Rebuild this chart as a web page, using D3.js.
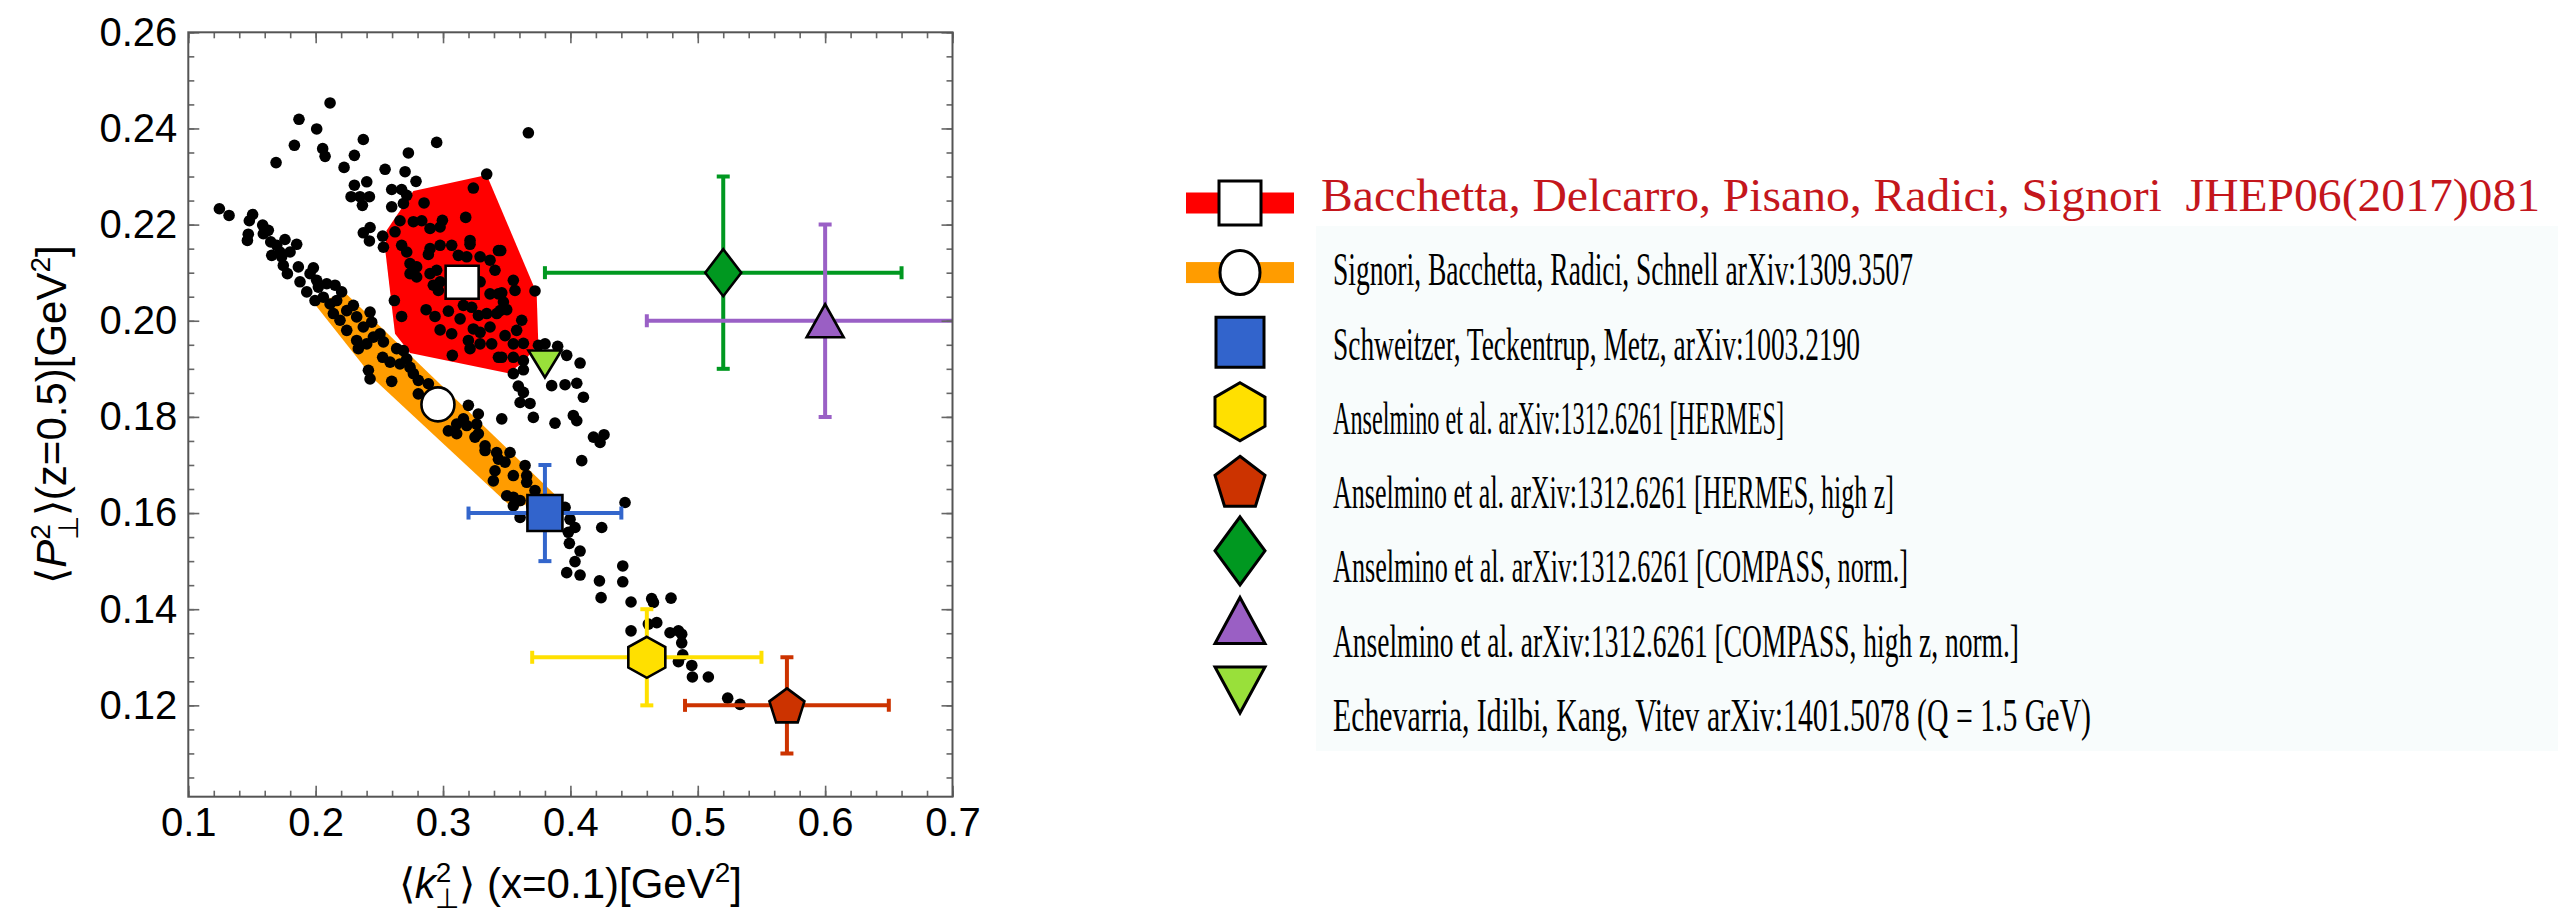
<!DOCTYPE html>
<html>
<head>
<meta charset="utf-8">
<script src="https://cdn.jsdelivr.net/npm/d3@7"></script>
<style>
  html, body { margin: 0; padding: 0; background: #fff; }
  svg { display: block; }
</style>
</head>
<body>
<svg id="chart" width="2558" height="917"></svg>
<script>
// replica scan: <k_perp^2>(x=0.1) vs <P_perp^2>(z=0.5)
const scanPoints = [
  [0.2113,0.2453],[0.1869,0.2419],[0.2008,0.2399],[0.2374,0.2377],[0.1833,0.2365],[0.2055,0.2358],[0.2074,0.2342],[0.1689,0.2329],[0.2304,0.2344],[0.2728,0.2349],
  [0.2950,0.2371],[0.2223,0.2319],[0.2545,0.2315],[0.2702,0.2310],[0.2788,0.2290],[0.2304,0.2282],[0.2401,0.2289],[0.2278,0.2258],[0.2348,0.2258],[0.2422,0.2258],
  [0.2367,0.2240],[0.2597,0.2273],[0.2675,0.2273],[0.2715,0.2261],[0.2597,0.2237],[0.2689,0.2244],[0.3343,0.2305],[0.3238,0.2276],[0.2851,0.2245],[0.3178,0.2215],
  [0.2662,0.2208],[0.2767,0.2206],[0.2833,0.2208],[0.2995,0.2209],[0.2977,0.2195],[0.2898,0.2192],[0.2427,0.2194],[0.2374,0.2183],[0.2422,0.2166],[0.2526,0.2176],
  [0.2532,0.2153],[0.2623,0.2185],[0.2675,0.2157],[0.2715,0.2143],[0.2898,0.2150],[0.2885,0.2138],[0.2977,0.2157],[0.3068,0.2157],[0.3212,0.2167],[0.3212,0.2159],
  [0.3435,0.2146],[0.3120,0.2136],[0.3186,0.2133],[0.3291,0.2133],[0.3369,0.2126],[0.2741,0.2119],[0.2793,0.2112],[0.2741,0.2098],[0.2793,0.2091],[0.2898,0.2098],
  [0.2950,0.2105],[0.2977,0.2081],[0.2924,0.2074],[0.2963,0.2063],[0.3408,0.2105],[0.3291,0.2081],[0.3369,0.2056],[0.3435,0.2056],[0.2618,0.2042],[0.2675,0.2009],
  [0.2867,0.2023],[0.2937,0.2009],[0.3042,0.2020],[0.3134,0.2004],[0.3160,0.2032],[0.3225,0.2028],[0.3278,0.2011],[0.3343,0.2015],[0.3422,0.2015],[0.2977,0.1981],
  [0.3068,0.1973],[0.3238,0.1983],[0.3291,0.1976],[0.3369,0.1987],[0.3199,0.1959],[0.3291,0.1952],[0.3382,0.1952],[0.3212,0.1942],[0.3073,0.1928],[0.3435,0.1924],
  [0.1244,0.2233],[0.1320,0.2219],[0.1505,0.2221],[0.1479,0.2208],[0.1584,0.2199],[0.1628,0.2188],[0.1471,0.2180],[0.1464,0.2167],[0.1589,0.2181],[0.1647,0.2164],
  [0.1694,0.2157],[0.1759,0.2169],[0.1851,0.2159],[0.1720,0.2143],[0.1799,0.2143],[0.1655,0.2136],[0.1733,0.2133],[0.1746,0.2115],[0.1778,0.2098],[0.1864,0.2112],
  [0.1982,0.2110],[0.1956,0.2098],[0.1877,0.2081],[0.1930,0.2060],[0.2008,0.2084],[0.2021,0.2070],[0.2087,0.2077],[0.2152,0.2074],[0.2204,0.2060],[0.1995,0.2042],
  [0.2060,0.2049],[0.2113,0.2035],[0.2165,0.2042],[0.2139,0.2015],[0.2191,0.2001],[0.2244,0.2021],[0.2296,0.2032],[0.2244,0.1980],[0.2322,0.2008],[0.2374,0.1987],
  [0.2427,0.2018],[0.2440,0.1997],[0.2322,0.1959],[0.2335,0.1942],[0.2401,0.1952],[0.2453,0.1966],[0.2505,0.1973],[0.2532,0.1956],[0.2526,0.1924],[0.2584,0.1914],
  [0.2636,0.1942],[0.2689,0.1938],[0.2715,0.1921],[0.2662,0.1910],[0.2741,0.1903],[0.2767,0.1890],[0.2806,0.1876],[0.2414,0.1897],[0.2427,0.1879],[0.2597,0.1874],
  [0.2885,0.1869],
  [0.3670,0.2391],[0.3453,0.2146],[0.3552,0.2084],[0.3565,0.2063],[0.3722,0.2062],[0.3461,0.2058],[0.3474,0.2039],[0.3448,0.2021],[0.3500,0.2023],[0.3618,0.2001],
  [0.3578,0.1980],[0.3487,0.1969],[0.3552,0.1952],[0.3631,0.1953],[0.3749,0.1949],[0.3801,0.1952],[0.3900,0.1947],[0.3461,0.1924],[0.3552,0.1924],[0.3631,0.1917],
  [0.3971,0.1928],[0.4076,0.1912],[0.3552,0.1890],[0.3631,0.1898],[0.3853,0.1865],[0.3958,0.1867],[0.4050,0.1870],[0.3591,0.1864],[0.3631,0.1851],[0.4102,0.1841],
  [0.2806,0.1848],[0.3605,0.1830],[0.3683,0.1828],[0.3461,0.1796],[0.3709,0.1799],[0.3879,0.1787],[0.4023,0.1803],[0.4050,0.1792],[0.4181,0.1758],[0.4233,0.1747],
  [0.4089,0.1709],[0.4264,0.1763],
  [0.3199,0.1824],[0.3277,0.1806],[0.3160,0.1796],[0.3107,0.1785],[0.3042,0.1771],[0.3107,0.1765],[0.3186,0.1782],[0.3264,0.1785],[0.3251,0.1758],[0.3277,0.1765],
  [0.3330,0.1740],[0.3330,0.1730],[0.3421,0.1726],[0.3526,0.1726],[0.3435,0.1712],[0.3487,0.1706],[0.3408,0.1688],[0.3395,0.1667],[0.3552,0.1678],[0.3644,0.1699],
  [0.3657,0.1678],[0.3657,0.1664],[0.3722,0.1647],[0.3500,0.1636],[0.3552,0.1633],[0.3605,0.1626],[0.3552,0.1615],[0.3605,0.1591],[0.3696,0.1615],
  [0.3958,0.1612],[0.4429,0.1622],[0.3997,0.1587],[0.4036,0.1570],[0.4246,0.1570],[0.3984,0.1560],[0.3992,0.1537],[0.4076,0.1521],[0.4036,0.1499],[0.3971,0.1476],
  [0.4076,0.1471],[0.4411,0.1490],[0.4228,0.1459],[0.4411,0.1457],[0.4241,0.1424],[0.4476,0.1415],[0.4638,0.1422],[0.4652,0.1414],[0.4790,0.1423],[0.4678,0.1372],
  [0.4612,0.1369],[0.4476,0.1355],[0.4782,0.1351],[0.4848,0.1355],[0.4874,0.1348],[0.4874,0.1330],[0.4882,0.1305],[0.4848,0.1291],[0.4953,0.1283],[0.4958,0.1259],
  [0.5083,0.1259],[0.5235,0.1215],[0.5332,0.1202]
];

// envelope of the 2017 fit (red) and of the 2013 fit (orange)
const redHull = [
  [0.2767,0.2270],[0.3343,0.2303],[0.3709,0.2074],[0.3736,0.2049],[0.3748,0.1952],
  [0.3631,0.1914],[0.3513,0.1891],[0.2741,0.1933],[0.2623,0.1973],[0.2545,0.2150],[0.2558,0.2188]
];
const orangeBand = [
  [0.1995,0.2034],[0.2225,0.2060],[0.3880,0.1638],[0.3550,0.1609],[0.2466,0.1876]
];

// extractions, in legend order
const legendLabels = [
  'Bacchetta, Delcarro, Pisano, Radici, Signori  JHEP06(2017)081',
  'Signori, Bacchetta, Radici, Schnell arXiv:1309.3507',
  'Schweitzer, Teckentrup, Metz, arXiv:1003.2190',
  'Anselmino et al. arXiv:1312.6261 [HERMES]',
  'Anselmino et al. arXiv:1312.6261 [HERMES, high z]',
  'Anselmino et al. arXiv:1312.6261 [COMPASS, norm.]',
  'Anselmino et al. arXiv:1312.6261 [COMPASS, high z, norm.]',
  'Echevarria, Idilbi, Kang, Vitev arXiv:1401.5078 (Q = 1.5 GeV)'
];
const refK = [0.315, 0.296, 0.38, 0.46, 0.57, 0.52, 0.60, 0.38];
const refP = [0.208, 0.1826, 0.16, 0.13, 0.12, 0.21, 0.20, 0.191];
const refKErr = [null, null, [0.32, 0.44], [0.37, 0.55], [0.49, 0.65], [0.38, 0.66], [0.46, 0.74], null];
const refPErr = [null, null, [0.15, 0.17], [0.12, 0.14], [0.11, 0.13], [0.19, 0.23], [0.18, 0.22], null];

const xTicks = [0.1, 0.2, 0.3, 0.4, 0.5, 0.6, 0.7];
const yTicks = [0.12, 0.14, 0.16, 0.18, 0.20, 0.22, 0.24, 0.26];

// ---- styles ----
const refShape = ['square', 'circle', 'square', 'hexagon', 'pentagon', 'diamond', 'triangle', 'triangleDown'];
const refFill = ['#ffffff', '#ffffff', '#3264cc', '#ffe000', '#cc3300', '#009820', '#9a5fc4', '#99e03a'];
const barColor = ['#3366cc', '#3366cc', '#3366cc', '#ffe000', '#cc3300', '#009820', '#9a60c6', '#99e03a'];
const plotSize = [[33, 33], [33, 34], [35, 36], [37, 41], [35, 34], [36, 47], [37, 33], [33, 27]];
const legendSize = [[42, 44], [40, 44], [48, 50], [50, 58], [50, 50], [50, 68], [50, 46], [50, 46]];

const svg = d3.select('#chart');
const x = d3.scaleLinear().domain([0.1, 0.7]).range([188.3, 952.5]);
const y = d3.scaleLinear().domain([0.101, 0.26]).range([796.7, 32.3]);
const [x0, x1] = x.range();
const [y1, y0] = y.range();

const sansFont = '"Liberation Sans", Arial, Helvetica, sans-serif';
const serifFont = '"Liberation Serif", "Times New Roman", serif';

// marker outline centred at 0,0, stretched to w x h
const shapePath = (shape, w, h) => {
  const poly = pts => 'M' + pts.map(p => `${p[0].toFixed(2)},${p[1].toFixed(2)}`).join('L') + 'Z';
  const regular = (n, start) => {
    const raw = d3.range(n).map(i => {
      const a = (start + i * 360 / n) * Math.PI / 180;
      return [Math.cos(a), Math.sin(a)];
    });
    const ex = d3.extent(raw, p => p[0]), ey = d3.extent(raw, p => p[1]);
    return raw.map(p => [(p[0] - (ex[0] + ex[1]) / 2) / (ex[1] - ex[0]) * w,
                         (p[1] - (ey[0] + ey[1]) / 2) / (ey[1] - ey[0]) * h]);
  };
  switch (shape) {
    case 'square': return poly([[-w / 2, -h / 2], [w / 2, -h / 2], [w / 2, h / 2], [-w / 2, h / 2]]);
    case 'circle': return `M${-w / 2},0A${w / 2},${h / 2} 0 1,0 ${w / 2},0A${w / 2},${h / 2} 0 1,0 ${-w / 2},0Z`;
    case 'hexagon': return poly(regular(6, -90));
    case 'pentagon': return poly(regular(5, -90));
    case 'diamond': return poly([[0, -h / 2], [w / 2, 0], [0, h / 2], [-w / 2, 0]]);
    case 'triangle': return poly([[0, -h / 2], [w / 2, h / 2], [-w / 2, h / 2]]);
    case 'triangleDown': return poly([[-w / 2, -h / 2], [w / 2, -h / 2], [0, h / 2]]);
  }
};

svg.append('defs').append('clipPath').attr('id', 'plotClip')
  .append('rect').attr('x', x0).attr('y', y0).attr('width', x1 - x0).attr('height', y1 - y0);

const plot = svg.append('g').attr('clip-path', 'url(#plotClip)');

// envelopes
const area = d3.line().x(d => x(d[0])).y(d => y(d[1])).curve(d3.curveLinearClosed);
plot.append('path').attr('d', area(redHull)).attr('fill', '#ff0000');
plot.append('path').attr('d', area(orangeBand)).attr('fill', '#ff9c00');

// replicas
plot.append('g').selectAll('circle')
  .data(scanPoints)
  .join('circle')
  .attr('cx', d => x(d[0]))
  .attr('cy', d => y(d[1]))
  .attr('r', 5.8)
  .attr('fill', '#000');

// error bars
const refIdx = d3.range(refK.length);
const capHalf = 6.5;
const bars = plot.append('g').attr('stroke-width', 4).attr('fill', 'none');
refIdx.filter(i => refKErr[i]).forEach(i => {
  const g = bars.append('g').attr('stroke', barColor[i]);
  const cy = y(refP[i]), cx = x(refK[i]);
  const [kl, kh] = refKErr[i].map(x);
  const [pl, ph] = refPErr[i].map(y);
  g.append('line').attr('x1', kl).attr('x2', kh).attr('y1', cy).attr('y2', cy);
  g.append('line').attr('x1', cx).attr('x2', cx).attr('y1', pl).attr('y2', ph);
  [kl, kh].forEach(v => g.append('line').attr('x1', v).attr('x2', v).attr('y1', cy - capHalf).attr('y2', cy + capHalf));
  [pl, ph].forEach(v => g.append('line').attr('y1', v).attr('y2', v).attr('x1', cx - capHalf).attr('x2', cx + capHalf));
});

// markers
plot.append('g').selectAll('path')
  .data(refIdx)
  .join('path')
  .attr('transform', i => `translate(${x(refK[i])},${y(refP[i])})`)
  .attr('d', i => shapePath(refShape[i], plotSize[i][0], plotSize[i][1]))
  .attr('fill', i => refFill[i])
  .attr('stroke', '#000')
  .attr('stroke-width', 2.6)
  .attr('stroke-linejoin', 'miter');

// frame with inward ticks on all four sides
const xMinor = d3.range(0.1, 0.7001, 0.02);
const yMinor = d3.range(0.105, 0.2601, 0.005);
const sides = [
  { axis: d3.axisBottom(x), at: `translate(0,${y1})`, minor: xMinor, major: xTicks, fmt: d3.format('.1f') },
  { axis: d3.axisTop(x), at: `translate(0,${y0})`, minor: xMinor, major: xTicks, fmt: null },
  { axis: d3.axisLeft(y), at: `translate(${x0},0)`, minor: yMinor, major: yTicks, fmt: d3.format('.2f') },
  { axis: d3.axisRight(y), at: `translate(${x1},0)`, minor: yMinor, major: yTicks, fmt: null }
];
sides.forEach(s => {
  const gMinor = svg.append('g').attr('transform', s.at)
    .call(s.axis.tickValues(s.minor).tickSize(-6).tickSizeOuter(0).tickFormat(''));
  gMinor.select('.domain').remove();
  const gMajor = svg.append('g').attr('transform', s.at)
    .call(s.axis.tickValues(s.major).tickSize(-11).tickSizeOuter(0).tickPadding(11)
      .tickFormat(s.fmt ? s.fmt : ''));
  gMajor.select('.domain').remove();
  [gMinor, gMajor].forEach(g => g.selectAll('.tick line').attr('stroke', '#666').attr('stroke-width', 1.6));
  gMajor.selectAll('text').attr('font-family', sansFont).attr('font-size', 40).attr('fill', '#000');
});
svg.append('rect')
  .attr('x', x0).attr('y', y0).attr('width', x1 - x0).attr('height', y1 - y0)
  .attr('fill', 'none').attr('stroke', '#555').attr('stroke-width', 2);

// axis titles
const xTitle = svg.append('text')
  .attr('x', (x0 + x1) / 2).attr('y', 898)
  .attr('text-anchor', 'middle')
  .attr('font-family', sansFont).attr('font-size', 42);
xTitle.append('tspan').text('\u27e8');
xTitle.append('tspan').attr('font-style', 'italic').text('k');
xTitle.append('tspan').attr('font-size', 28).attr('dy', -16).text('2');
xTitle.append('tspan').attr('font-size', 28).attr('dx', -16).attr('dy', 26).text('\u22a5');
xTitle.append('tspan').attr('dy', -10).text('\u27e9 (x=0.1)[GeV');
xTitle.append('tspan').attr('font-size', 28).attr('dy', -16).text('2');
xTitle.append('tspan').attr('dy', 16).text(']');

const yTitle = svg.append('text')
  .attr('transform', `translate(66,${(y0 + y1) / 2}) rotate(-90)`)
  .attr('text-anchor', 'middle')
  .attr('font-family', sansFont).attr('font-size', 42);
yTitle.append('tspan').text('\u27e8');
yTitle.append('tspan').attr('font-style', 'italic').text('P');
yTitle.append('tspan').attr('font-size', 28).attr('dy', -16).text('2');
yTitle.append('tspan').attr('font-size', 28).attr('dx', -16).attr('dy', 28).text('\u22a5');
yTitle.append('tspan').attr('dy', -12).text('\u27e9(z=0.5)[GeV');
yTitle.append('tspan').attr('font-size', 28).attr('dy', -16).text('2');
yTitle.append('tspan').attr('dy', 16).text(']');

// legend
const legend = svg.append('g');
const rowText = d3.scaleLinear().domain([0, 7]).range([196, 716]);
const rowMark = d3.scaleLinear().domain([0, 7]).range([203, 690]);
const textEnd = [2540, 1913, 1860, 1784, 1894, 1908, 2019, 2091];
const markX = 1240;

legend.append('rect')
  .attr('x', 1316).attr('y', 226).attr('width', 2558 - 1316).attr('height', 525)
  .attr('fill', '#f8fcfc');

[['#ff0000', 0], ['#ff9c00', 1]].forEach(([c, i]) => {
  legend.append('rect')
    .attr('x', 1186).attr('y', rowMark(i) - 10.5).attr('width', 108).attr('height', 21)
    .attr('fill', c);
});

legend.selectAll('path.key')
  .data(refIdx)
  .join('path')
  .attr('class', 'key')
  .attr('transform', i => `translate(${markX},${rowMark(i)})`)
  .attr('d', i => shapePath(refShape[i], legendSize[i][0], legendSize[i][1]))
  .attr('fill', i => refFill[i])
  .attr('stroke', '#000')
  .attr('stroke-width', 3);

legend.selectAll('text')
  .data(refIdx)
  .join('text')
  .attr('x', i => i === 0 ? 1321 : 1333)
  .attr('y', i => rowText(i) + 15)
  .attr('font-family', serifFont)
  .attr('font-size', 46)
  .attr('fill', i => i === 0 ? '#c4161c' : '#000')
  .attr('textLength', i => textEnd[i] - (i === 0 ? 1321 : 1333))
  .attr('lengthAdjust', 'spacingAndGlyphs')
  .style('white-space', 'pre')
  .text(i => legendLabels[i]);
</script>
</body>
</html>
